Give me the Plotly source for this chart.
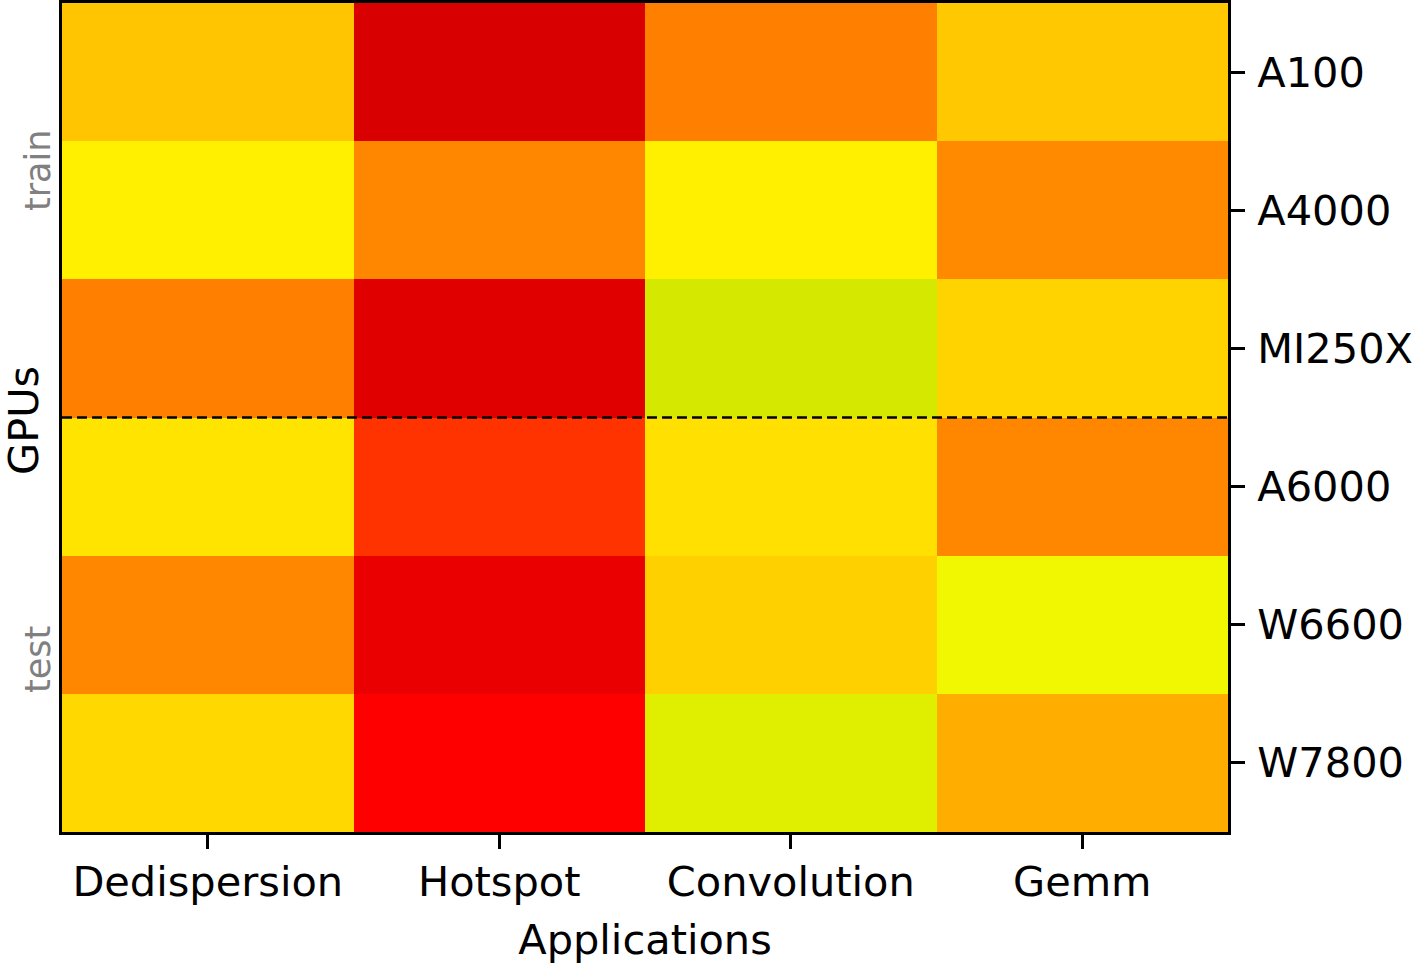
import plotly.graph_objects as go

applications = ["Dedispersion", "Hotspot", "Convolution", "Gemm"]
gpus = ["A100", "A4000", "MI250X", "A6000", "W6600", "W7800"]

# normalized scores (position along the colour scale), one list per GPU
score_a100 = [0.69, 0.035, 0.50, 0.70]
score_a4000 = [0.81, 0.52, 0.81, 0.53]
score_mi250x = [0.50, 0.06, 0.976, 0.73]
score_a6000 = [0.776, 0.29, 0.765, 0.52]
score_w6600 = [0.52, 0.088, 0.72, 0.894]
score_w7800 = [0.743, 0.15, 0.941, 0.628]

z = [score_a100, score_a4000, score_mi250x, score_a6000, score_w6600, score_w7800]

colorscale = [
    [0.0, "rgb(204,0,0)"],
    [0.15, "rgb(255,0,0)"],
    [0.85, "rgb(255,255,0)"],
    [1.0, "rgb(204,228,0)"],
]

FONT = "DejaVu Sans"
FS = 41.5

fig = go.Figure(
    go.Heatmap(
        z=z,
        x=applications,
        y=gpus,
        colorscale=colorscale,
        zmin=0,
        zmax=1,
        showscale=False,
        xgap=0,
        ygap=0,
    )
)

# dashed separator between train and test GPUs
fig.add_shape(
    type="line",
    xref="x domain",
    yref="y",
    x0=0,
    x1=1,
    y0=2.5,
    y1=2.5,
    line=dict(color="black", width=2.5, dash="10px,5px"),
)

fig.add_annotation(
    text="GPUs", xref="paper", yref="paper", x=-39 / 1166, y=1 - (421 - 3) / 829,
    xanchor="center", yanchor="middle", textangle=-90, showarrow=False,
    font=dict(family=FONT, size=FS, color="black"),
)
fig.add_annotation(
    text="train", xref="paper", yref="paper", x=-24 / 1166, y=1 - (171 - 3) / 829,
    xanchor="center", yanchor="middle", textangle=-90, showarrow=False,
    font=dict(family=FONT, size=35, color="#808080"),
)
fig.add_annotation(
    text="test", xref="paper", yref="paper", x=-24 / 1166, y=1 - (660 - 3) / 829,
    xanchor="center", yanchor="middle", textangle=-90, showarrow=False,
    font=dict(family=FONT, size=35, color="#808080"),
)

fig.update_layout(
    width=1416,
    height=966,
    margin=dict(l=62, r=188, t=3, b=134),
    paper_bgcolor="white",
    plot_bgcolor="white",
    font=dict(family=FONT, size=FS, color="black"),
    xaxis=dict(
        title=dict(text="Applications", standoff=21, font=dict(size=FS)),
        automargin=False,
        ticks="outside",
        ticklen=14,
        tickwidth=3,
        tickcolor="black",
        showline=True,
        linewidth=3,
        linecolor="black",
        mirror=True,
        showgrid=False,
        zeroline=False,
        tickfont=dict(size=FS),
        ticklabelstandoff=-3,
    ),
    yaxis=dict(
        side="right",
        automargin=False,
        autorange="reversed",
        ticks="outside",
        ticklen=14,
        tickwidth=3,
        tickcolor="black",
        showline=True,
        linewidth=3,
        linecolor="black",
        mirror=True,
        showgrid=False,
        zeroline=False,
        tickfont=dict(size=FS),
        ticklabelstandoff=4,
    ),
)

fig.write_html(
    "out.html",
    config={"displayModeBar": False},
    post_script="document.body.style.margin='0';document.body.style.overflow='hidden';",
)
